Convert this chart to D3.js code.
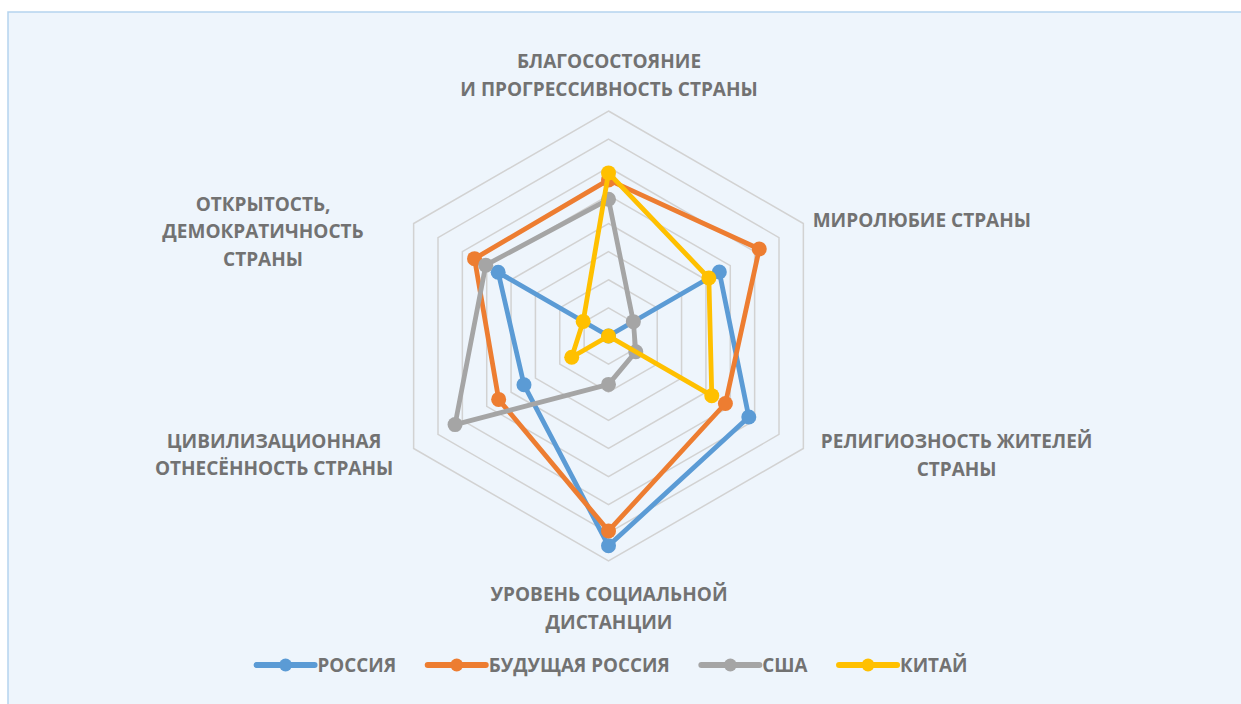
<!DOCTYPE html>
<html>
<head>
<meta charset="utf-8">
<script src="https://cdn.jsdelivr.net/npm/d3@7"></script>
<style>
  html, body { margin: 0; padding: 0; background: #fff; }
  svg { display: block; }
  text { font-family: "Open Sans", "DejaVu Sans", sans-serif; font-weight: 700; fill: #727272; }
</style>
</head>
<body>
<svg id="chart" width="1241" height="704"></svg>
<script>
// axis labels (clockwise from top), split into lines
const axes = [
  ["БЛАГОСОСТОЯНИЕ", "И ПРОГРЕССИВНОСТЬ СТРАНЫ"],
  ["МИРОЛЮБИЕ СТРАНЫ"],
  ["РЕЛИГИОЗНОСТЬ ЖИТЕЛЕЙ", "СТРАНЫ"],
  ["УРОВЕНЬ СОЦИАЛЬНОЙ", "ДИСТАНЦИИ"],
  ["ЦИВИЛИЗАЦИОННАЯ", "ОТНЕСЁННОСТЬ СТРАНЫ"],
  ["ОТКРЫТОСТЬ,", "ДЕМОКРАТИЧНОСТЬ", "СТРАНЫ"]
];

const seriesNames = ["РОССИЯ", "БУДУЩАЯ РОССИЯ", "США", "КИТАЙ"];
const seriesColors = ["#5B9BD5", "#ED7D31", "#A5A5A5", "#FFC000"];

const russia       = [0.0, 4.55, 5.76, 7.46, 3.47, 4.53];
const futureRussia = [5.55, 6.19, 4.8, 6.93, 4.51, 5.5];
const usa          = [4.86, 1.02, 1.12, 1.72, 6.3, 5.04];
const china        = [5.8, 4.12, 4.24, 0.0, 1.51, 1.04];

const series = [russia, futureRussia, usa, china];
const levels = [1, 2, 3, 4, 5, 6, 7, 8];

const W = 1241, H = 704;
const cx = 608.5, cy = 336, R = 225;

const svg = d3.select("#chart");

// background panel
svg.append("rect").attr("x", 0).attr("y", 0).attr("width", W).attr("height", H).attr("fill", "#fff");
svg.append("rect")
  .attr("x", 8).attr("y", 12).attr("width", W).attr("height", H)
  .attr("fill", "#EEF5FC").attr("stroke", "#B5D3EE").attr("stroke-width", 1.5);

const r = d3.scaleLinear().domain([0, 8]).range([0, R]);
const angle = d3.scaleLinear().domain([0, axes.length]).range([0, 2 * Math.PI]);

const pt = (i, v) => [cx + r(v) * Math.sin(angle(i)), cy - r(v) * Math.cos(angle(i))];

const line = d3.line();

// grid rings
svg.append("g").selectAll("path")
  .data(levels)
  .join("path")
  .attr("d", lv => line(axes.map((a, i) => pt(i, lv))) + "Z")
  .attr("fill", "none")
  .attr("stroke", "#D2D2D2")
  .attr("stroke-width", 1.5);

// series
series.forEach((vals, s) => {
  const pts = vals.map((v, i) => pt(i, v));
  const g = svg.append("g");
  g.append("path")
    .attr("d", line(pts) + "Z")
    .attr("fill", "none")
    .attr("stroke", seriesColors[s])
    .attr("stroke-width", 4.8)
    .attr("stroke-linejoin", "round");
  g.selectAll("circle")
    .data(pts)
    .join("circle")
    .attr("cx", d => d[0])
    .attr("cy", d => d[1])
    .attr("r", 7.5)
    .attr("fill", seriesColors[s]);
});

// axis labels: anchor, dx, dy of first baseline relative to outer vertex
const labelPos = [
  { anchor: "middle", dx: 0.5, dy: -42.7 },
  { anchor: "start", dx: 9.3, dy: 3.2 },
  { anchor: "middle", dx: 153.3, dy: -0.2 },
  { anchor: "middle", dx: 0.5, dy: 40 },
  { anchor: "middle", dx: -139.6, dy: -0.8 },
  { anchor: "middle", dx: -150.6, dy: -12.8 }
];
const lineH = 27.7;

axes.forEach((lines, i) => {
  const [vx, vy] = pt(i, 8);
  const p = labelPos[i];
  const t = svg.append("text")
    .attr("text-anchor", p.anchor)
    .style("font-size", "19px");
  lines.forEach((l, k) => {
    t.append("tspan")
      .attr("x", vx + p.dx)
      .attr("y", vy + p.dy + k * lineH)
      .text(l);
  });
});

// legend
const legY = 665, swatch = 58, gapText = 3, gapItem = 31.5;
const leg = svg.append("g");
const items = seriesNames.map((name, s) => {
  const g = leg.append("g");
  g.append("line").attr("x1", 0).attr("x2", swatch).attr("y1", 0).attr("y2", 0)
    .attr("stroke", seriesColors[s]).attr("stroke-width", 6).attr("stroke-linecap", "round");
  g.append("circle").attr("cx", swatch / 2).attr("cy", 0).attr("r", 6.5).attr("fill", seriesColors[s]);
  const t = g.append("text").attr("x", swatch + gapText).attr("y", 6.8).style("font-size", "18.8px").text(name);
  return { g, w: swatch + gapText + t.node().getComputedTextLength() };
});
const total = d3.sum(items, d => d.w) + gapItem * (items.length - 1);
let x0 = 612 - total / 2;
items.forEach(it => {
  it.g.attr("transform", `translate(${x0},${legY})`);
  x0 += it.w + gapItem;
});
</script>
</body>
</html>
